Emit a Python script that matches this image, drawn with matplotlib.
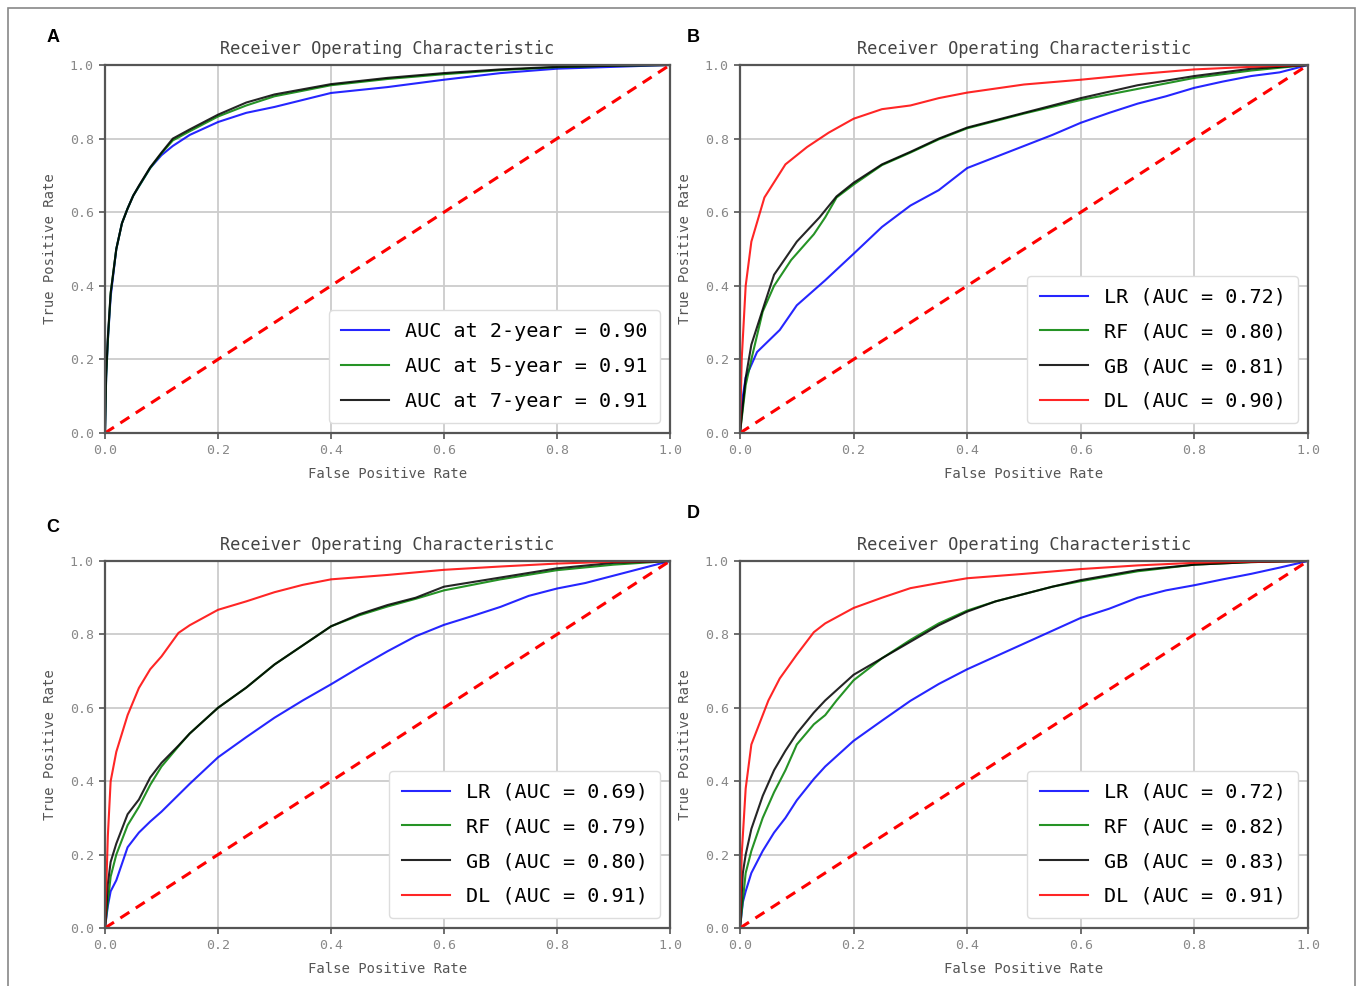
import matplotlib.pyplot as plt
from matplotlib.patches import Rectangle

# ---- panel A: survival horizons ----
a_fpr_2y = [0, 0.002, 0.005, 0.01, 0.02, 0.03, 0.04, 0.05, 0.06, 0.08, 0.1, 0.12, 0.15, 0.2, 0.25,
            0.3, 0.4, 0.5, 0.6, 0.7, 0.8, 0.9, 1.0]
a_tpr_2y = [0, 0.15, 0.25, 0.37, 0.5, 0.57, 0.61, 0.645, 0.67, 0.72, 0.755, 0.78, 0.81, 0.845, 0.87,
            0.886, 0.924, 0.94, 0.96, 0.978, 0.99, 0.995, 1.0]
a_fpr_5y = [0, 0.002, 0.005, 0.01, 0.02, 0.03, 0.04, 0.05, 0.06, 0.08, 0.1, 0.12, 0.15, 0.2, 0.25,
            0.3, 0.4, 0.5, 0.6, 0.7, 0.8, 0.9, 1.0]
a_tpr_5y = [0, 0.15, 0.25, 0.38, 0.5, 0.57, 0.61, 0.645, 0.67, 0.72, 0.76, 0.795, 0.82, 0.86, 0.89,
            0.915, 0.945, 0.962, 0.975, 0.986, 0.994, 0.998, 1.0]
a_fpr_7y = [0, 0.002, 0.005, 0.01, 0.02, 0.03, 0.04, 0.05, 0.06, 0.08, 0.1, 0.12, 0.15, 0.2, 0.25,
            0.3, 0.4, 0.5, 0.6, 0.7, 0.8, 0.9, 1.0]
a_tpr_7y = [0, 0.16, 0.26, 0.38, 0.5, 0.57, 0.61, 0.645, 0.672, 0.722, 0.762, 0.8, 0.825, 0.865, 0.898,
            0.92, 0.948, 0.965, 0.978, 0.988, 0.995, 0.998, 1.0]
a_labels = ['AUC at 2-year = 0.90', 'AUC at 5-year = 0.91', 'AUC at 7-year = 0.91']

# ---- panels B, C, D: model comparison ----
model_labels_b = ['LR (AUC = 0.72)', 'RF (AUC = 0.80)', 'GB (AUC = 0.81)', 'DL (AUC = 0.90)']
model_labels_c = ['LR (AUC = 0.69)', 'RF (AUC = 0.79)', 'GB (AUC = 0.80)', 'DL (AUC = 0.91)']
model_labels_d = ['LR (AUC = 0.72)', 'RF (AUC = 0.82)', 'GB (AUC = 0.83)', 'DL (AUC = 0.91)']

b_fpr_lr = [0, 0.005, 0.01, 0.03, 0.05, 0.07, 0.1, 0.15, 0.2, 0.25, 0.3, 0.35, 0.4, 0.45, 0.5, 0.55,
            0.6, 0.65, 0.7, 0.75, 0.8, 0.85, 0.9, 0.95, 1.0]
b_tpr_lr = [0, 0.1, 0.15, 0.22, 0.25, 0.28, 0.347, 0.415, 0.487, 0.56, 0.618, 0.66, 0.72, 0.75, 0.78,
            0.81, 0.843, 0.87, 0.895, 0.915, 0.938, 0.955, 0.97, 0.98, 1.0]
b_fpr_rf = [0, 0.01, 0.02, 0.04, 0.06, 0.09, 0.11, 0.13, 0.15, 0.17, 0.2, 0.25, 0.3, 0.35, 0.4, 0.45,
            0.5, 0.6, 0.7, 0.8, 0.9, 1.0]
b_tpr_rf = [0, 0.13, 0.2, 0.33, 0.4, 0.47, 0.505, 0.54, 0.586, 0.64, 0.675, 0.728, 0.762, 0.798, 0.828,
            0.848, 0.868, 0.905, 0.935, 0.965, 0.985, 1.0]
b_fpr_gb = [0, 0.01, 0.02, 0.043, 0.06, 0.1, 0.14, 0.17, 0.2, 0.25, 0.3, 0.35, 0.4, 0.45, 0.5, 0.6,
            0.7, 0.8, 0.9, 1.0]
b_tpr_gb = [0, 0.15, 0.24, 0.35, 0.43, 0.52, 0.586, 0.643, 0.68, 0.73, 0.764, 0.8, 0.83, 0.85, 0.87,
            0.91, 0.945, 0.97, 0.99, 1.0]
b_fpr_dl = [0, 0.003, 0.01, 0.02, 0.043, 0.08, 0.118, 0.156, 0.2, 0.25, 0.3, 0.35, 0.4, 0.5, 0.6,
            0.7, 0.8, 0.9, 1.0]
b_tpr_dl = [0, 0.2, 0.4, 0.52, 0.64, 0.73, 0.777, 0.816, 0.854, 0.88, 0.89, 0.91, 0.925, 0.947, 0.96,
            0.975, 0.988, 0.995, 1.0]

c_fpr_lr = [0, 0.005, 0.01, 0.02, 0.04, 0.06, 0.08, 0.1, 0.15, 0.2, 0.25, 0.3, 0.35, 0.4, 0.45, 0.5,
            0.55, 0.6, 0.65, 0.7, 0.75, 0.8, 0.85, 0.9, 0.95, 1.0]
c_tpr_lr = [0, 0.06, 0.1, 0.13, 0.22, 0.26, 0.29, 0.317, 0.393, 0.465, 0.52, 0.573, 0.62, 0.664, 0.71,
            0.754, 0.795, 0.826, 0.85, 0.875, 0.905, 0.925, 0.94, 0.96, 0.98, 1.0]
c_fpr_rf = [0, 0.01, 0.02, 0.04, 0.06, 0.08, 0.1, 0.13, 0.15, 0.2, 0.25, 0.3, 0.35, 0.4, 0.45, 0.5,
            0.55, 0.6, 0.7, 0.8, 0.9, 1.0]
c_tpr_rf = [0, 0.14, 0.2, 0.28, 0.33, 0.39, 0.44, 0.495, 0.53, 0.6, 0.655, 0.718, 0.77, 0.822, 0.852,
            0.876, 0.897, 0.92, 0.95, 0.975, 0.99, 1.0]
c_fpr_gb = [0, 0.005, 0.01, 0.02, 0.04, 0.06, 0.08, 0.1, 0.13, 0.15, 0.2, 0.25, 0.3, 0.35, 0.4, 0.45,
            0.5, 0.55, 0.6, 0.7, 0.8, 0.9, 1.0]
c_tpr_gb = [0, 0.12, 0.18, 0.23, 0.31, 0.35, 0.41, 0.45, 0.497, 0.53, 0.6, 0.655, 0.718, 0.77, 0.822,
            0.855, 0.88, 0.9, 0.93, 0.955, 0.98, 0.995, 1.0]
c_fpr_dl = [0, 0.005, 0.01, 0.02, 0.04, 0.06, 0.08, 0.1, 0.13, 0.15, 0.2, 0.25, 0.3, 0.35, 0.4, 0.5,
            0.6, 0.7, 0.8, 0.9, 1.0]
c_tpr_dl = [0, 0.25, 0.4, 0.48, 0.58, 0.654, 0.705, 0.74, 0.804, 0.825, 0.867, 0.89, 0.915, 0.935,
            0.95, 0.962, 0.976, 0.985, 0.993, 0.998, 1.0]

d_fpr_lr = [0, 0.005, 0.01, 0.02, 0.04, 0.06, 0.08, 0.1, 0.13, 0.15, 0.2, 0.25, 0.3, 0.35, 0.4, 0.45,
            0.5, 0.55, 0.6, 0.65, 0.7, 0.75, 0.8, 0.85, 0.9, 0.95, 1.0]
d_tpr_lr = [0, 0.07, 0.1, 0.15, 0.21, 0.26, 0.3, 0.348, 0.406, 0.44, 0.51, 0.565, 0.619, 0.665, 0.705,
            0.74, 0.775, 0.81, 0.845, 0.87, 0.9, 0.92, 0.934, 0.95, 0.965, 0.982, 1.0]
d_fpr_rf = [0, 0.01, 0.02, 0.04, 0.06, 0.08, 0.1, 0.13, 0.15, 0.17, 0.2, 0.25, 0.3, 0.35, 0.4, 0.45,
            0.5, 0.55, 0.6, 0.7, 0.8, 0.9, 1.0]
d_tpr_rf = [0, 0.15, 0.21, 0.3, 0.37, 0.43, 0.5, 0.555, 0.58, 0.62, 0.675, 0.735, 0.785, 0.83, 0.865,
            0.89, 0.91, 0.93, 0.945, 0.972, 0.99, 0.997, 1.0]
d_fpr_gb = [0, 0.005, 0.01, 0.02, 0.04, 0.06, 0.08, 0.1, 0.13, 0.15, 0.2, 0.25, 0.3, 0.35, 0.4, 0.45,
            0.5, 0.55, 0.6, 0.7, 0.8, 0.9, 1.0]
d_tpr_gb = [0, 0.15, 0.2, 0.27, 0.36, 0.43, 0.483, 0.53, 0.587, 0.62, 0.69, 0.735, 0.78, 0.825, 0.862,
            0.89, 0.91, 0.93, 0.948, 0.975, 0.99, 0.997, 1.0]
d_fpr_dl = [0, 0.003, 0.01, 0.02, 0.04, 0.05, 0.07, 0.1, 0.13, 0.15, 0.2, 0.25, 0.3, 0.35, 0.4, 0.5,
            0.6, 0.7, 0.8, 0.9, 1.0]
d_tpr_dl = [0, 0.2, 0.38, 0.5, 0.58, 0.62, 0.68, 0.745, 0.806, 0.83, 0.872, 0.9, 0.926, 0.94, 0.953,
            0.965, 0.978, 0.988, 0.995, 0.998, 1.0]

diag = [0, 1]
ticks = [0.0, 0.2, 0.4, 0.6, 0.8, 1.0]
colors3 = ['blue', 'green', 'black']
colors4 = ['blue', 'green', 'black', 'red']

MONO = 'DejaVu Sans Mono'


def draw_panel(ax, curves, labels, colors):
    for (fpr, tpr), lab, c in zip(curves, labels, colors):
        ax.plot(fpr, tpr, color=c, lw=1.5, label=lab, alpha=0.85)
    ax.plot(diag, diag, 'r--', lw=2.2, dashes=(3.5, 2.5))
    ax.set_xlim(0, 1)
    ax.set_ylim(0, 1)
    ax.set_xticks(ticks)
    ax.set_yticks(ticks)
    ax.grid(True, color='#cccccc', lw=1.3)
    ax.set_axisbelow(True)
    for s in ax.spines.values():
        s.set_color('#555555')
        s.set_linewidth(1.6)
    ax.tick_params(colors='#555555', labelcolor='#888888', labelsize=9.5, length=4, width=1.2,
                   pad=4)
    for t in ax.get_xticklabels() + ax.get_yticklabels():
        t.set_family(MONO)
    ax.set_title('Receiver Operating Characteristic', family=MONO, fontsize=12.2,
                 color='#444444', pad=8)
    ax.set_xlabel('False Positive Rate', family=MONO, fontsize=10, color='#555555', labelpad=7)
    ax.set_ylabel('True Positive Rate', family=MONO, fontsize=10, color='#555555', labelpad=9)
    leg = ax.legend(loc='lower right', prop={'family': MONO, 'size': 14.5},
                    handlelength=2.4, labelspacing=0.78, borderpad=0.6, handletextpad=0.8,
                    fancybox=True, framealpha=1.0, edgecolor='#dddddd')
    for line in leg.get_lines():
        line.set_linewidth(1.5)


fig = plt.figure(figsize=(13.57, 9.86), dpi=100)
W, H = 1357, 986


def add_axes(l, r, t, b):
    return fig.add_axes([l / W, 1 - b / H, (r - l) / W, (b - t) / H])


axA = add_axes(105, 670, 65, 433)
axB = add_axes(740, 1308, 65, 433)
axC = add_axes(105, 670, 561, 928)
axD = add_axes(740, 1308, 561, 928)

draw_panel(axA, [(a_fpr_2y, a_tpr_2y), (a_fpr_5y, a_tpr_5y), (a_fpr_7y, a_tpr_7y)],
           a_labels, colors3)
draw_panel(axB, [(b_fpr_lr, b_tpr_lr), (b_fpr_rf, b_tpr_rf), (b_fpr_gb, b_tpr_gb),
                 (b_fpr_dl, b_tpr_dl)], model_labels_b, colors4)
draw_panel(axC, [(c_fpr_lr, c_tpr_lr), (c_fpr_rf, c_tpr_rf), (c_fpr_gb, c_tpr_gb),
                 (c_fpr_dl, c_tpr_dl)], model_labels_c, colors4)
draw_panel(axD, [(d_fpr_lr, d_tpr_lr), (d_fpr_rf, d_tpr_rf), (d_fpr_gb, d_tpr_gb),
                 (d_fpr_dl, d_tpr_dl)], model_labels_d, colors4)

# panel letters
for letter, x, y in [('A', 53, 37), ('B', 693, 37), ('C', 53, 527), ('D', 693, 514)]:
    fig.text(x / W, 1 - y / H, letter, fontsize=13, fontweight='bold', family='Liberation Sans',
             ha='center', va='center')

# outer frame
fig.patches.append(Rectangle((8 / W, -0.02), (1355 - 8) / W, 1.02 - 8 / H,
                             transform=fig.transFigure, fill=False, edgecolor='#888888', lw=1.2))

fig.savefig('out.png', dpi=100)
